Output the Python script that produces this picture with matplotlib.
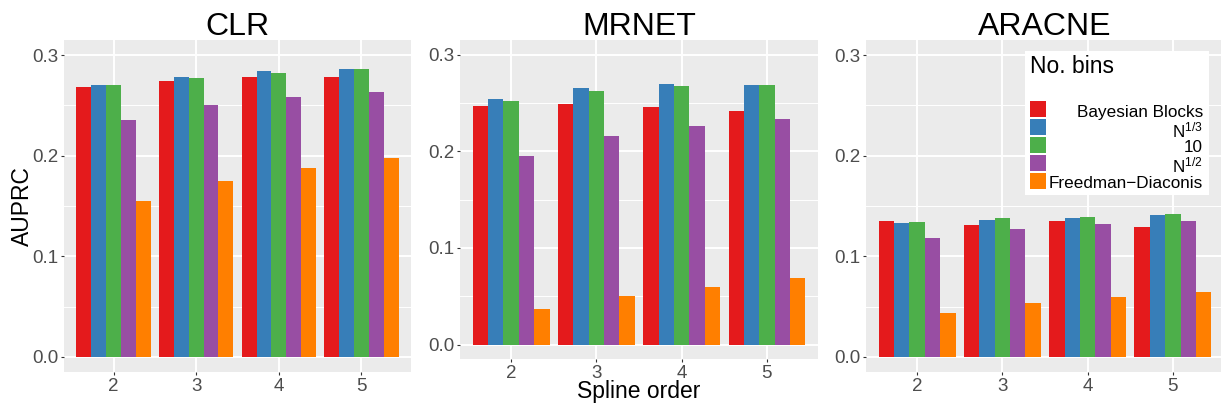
import numpy as np
import matplotlib.pyplot as plt
from matplotlib.patches import Rectangle

orders = ["2", "3", "4", "5"]
bin_labels = ["Bayesian Blocks", r"$\mathregular{N^{1/3}}$", "10",
              r"$\mathregular{N^{1/2}}$", "Freedman\u2212Diaconis"]
colors = ["#E41A1C", "#377EB8", "#4DAF4A", "#984EA3", "#FF7F00"]

# rows: Bayesian Blocks, N^1/3, 10, N^1/2, Freedman-Diaconis ; cols: spline order 2..5
clr_auprc = [[0.268, 0.274, 0.278, 0.278],
             [0.270, 0.278, 0.284, 0.286],
             [0.270, 0.277, 0.282, 0.286],
             [0.235, 0.250, 0.258, 0.263],
             [0.155, 0.175, 0.188, 0.198]]
mrnet_auprc = [[0.247, 0.249, 0.246, 0.242],
               [0.254, 0.265, 0.269, 0.268],
               [0.252, 0.262, 0.267, 0.268],
               [0.195, 0.216, 0.226, 0.233],
               [0.037, 0.050, 0.060, 0.069]]
aracne_auprc = [[0.135, 0.131, 0.135, 0.129],
                [0.133, 0.136, 0.138, 0.141],
                [0.134, 0.138, 0.139, 0.142],
                [0.118, 0.127, 0.132, 0.135],
                [0.044, 0.054, 0.060, 0.065]]

plt.rcParams["font.family"] = ["Liberation Sans", "DejaVu Sans"]
plt.rcParams["mathtext.fontset"] = "custom"
plt.rcParams["mathtext.rm"] = "Liberation Sans"

W, H = 1221, 407
fig = plt.figure(figsize=(W / 100, H / 100), dpi=100)


def px_axes(l, t, r, b):
    return fig.add_axes([l / W, 1 - b / H, (r - l) / W, (b - t) / H])


def draw_panel(ax, data, title):
    x = np.arange(len(orders))
    w = 0.9 / len(data)
    for j, vals in enumerate(data):
        ax.bar(x + (j - 2) * w, vals, width=w, color=colors[j], zorder=3)
    ax.set_facecolor("#EBEBEB")
    ax.set_xlim(-0.6, len(orders) - 0.4)
    ax.set_ylim(-0.015, 0.315)
    ax.set_xticks(x)
    ax.set_xticklabels(orders)
    ax.set_yticks([0.0, 0.1, 0.2, 0.3])
    ax.set_yticklabels(["0.0", "0.1", "0.2", "0.3"])
    ax.set_yticks([0.05, 0.15, 0.25], minor=True)
    ax.grid(True, which="major", color="white", linewidth=1.4, zorder=1)
    ax.grid(True, which="minor", axis="y", color="white", linewidth=0.7, zorder=1)
    ax.tick_params(which="major", length=2.5, width=0.8, color="#333333",
                   labelcolor="#4D4D4D", labelsize=13.5, pad=1.5)
    ax.tick_params(which="minor", length=0)
    for s in ax.spines.values():
        s.set_visible(False)
    ax.set_axisbelow(True)
    pos = ax.get_position()
    fig.text(pos.x0 + pos.width / 2, 1 - 35 / H, title, ha="center",
             va="baseline", fontsize=23)


ax1 = px_axes(64, 40, 411, 372)
ax2 = px_axes(460, 40, 818, 359)
ax3 = px_axes(866, 40, 1224, 372)
draw_panel(ax1, clr_auprc, "CLR")
draw_panel(ax2, mrnet_auprc, "MRNET")
draw_panel(ax3, aracne_auprc, "ARACNE")

fig.text(22 / W, 1 - 206 / H, "AUPRC", rotation=90, ha="center", va="center",
         fontsize=16.5)
fig.text(638.5 / W, 1 - 398 / H, "Spline order", ha="center", va="baseline",
         fontsize=16.5)

# legend (ggplot style, right-aligned labels)
ax3.add_patch(Rectangle((1025 / W, 1 - 195 / H), 184 / W, 144 / H,
                        transform=fig.transFigure, facecolor="white",
                        edgecolor="none", zorder=10, clip_on=False))
fig.text(1030 / W, 1 - 73 / H, "No. bins", ha="left", va="baseline",
         fontsize=16.5, zorder=11)
key_tops = [101, 119, 137, 155, 173]
label_base = [117, 137, 152, 172, 188]
for lab, col, kt, lb in zip(bin_labels, colors, key_tops, label_base):
    ax3.add_patch(Rectangle((1030 / W, 1 - (kt + 16) / H), 16 / W, 16 / H,
                            transform=fig.transFigure, facecolor=col,
                            edgecolor="none", zorder=11, clip_on=False))
    fig.text(1203 / W, 1 - lb / H, lab, ha="right", va="baseline",
             fontsize=12.3, zorder=11)

plt.savefig("out.png", dpi=100)
